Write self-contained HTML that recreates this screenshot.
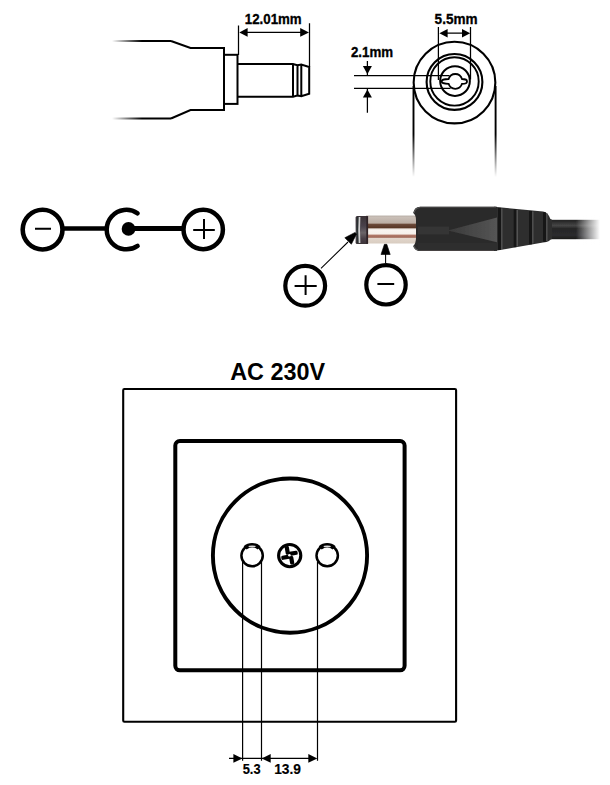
<!DOCTYPE html>
<html><head><meta charset="utf-8">
<style>
html,body{margin:0;padding:0;background:#fff;width:610px;height:785px;overflow:hidden}
svg{display:block}
text{font-family:"Liberation Sans",sans-serif;font-weight:bold;fill:#000}
</style></head><body>
<svg width="610" height="785" viewBox="0 0 610 785">
<defs>
<linearGradient id="fadeL" x1="112" y1="0" x2="142" y2="0" gradientUnits="userSpaceOnUse">
<stop offset="0" stop-color="#000" stop-opacity="0"/><stop offset="1" stop-color="#000" stop-opacity="1"/>
</linearGradient>
<linearGradient id="fadeV" x1="0" y1="82" x2="0" y2="177" gradientUnits="userSpaceOnUse">
<stop offset="0.55" stop-color="#000" stop-opacity="1"/><stop offset="1" stop-color="#000" stop-opacity="0"/>
</linearGradient>
<linearGradient id="barrel" x1="0" y1="215.5" x2="0" y2="243.5" gradientUnits="userSpaceOnUse">
<stop offset="0.000" stop-color="#aea49c"/>
<stop offset="0.054" stop-color="#cac0b8"/>
<stop offset="0.268" stop-color="#bcaea4"/>
<stop offset="0.321" stop-color="#6a4838"/>
<stop offset="0.429" stop-color="#5a3828"/>
<stop offset="0.482" stop-color="#e8e0da"/>
<stop offset="0.518" stop-color="#f8f4f0"/>
<stop offset="0.661" stop-color="#f6f0ea"/>
<stop offset="0.704" stop-color="#b07868"/>
<stop offset="0.779" stop-color="#a06858"/>
<stop offset="0.811" stop-color="#e2d6cc"/>
<stop offset="1.000" stop-color="#d8ccc0"/>
</linearGradient>
<linearGradient id="tipg" x1="0" y1="216" x2="0" y2="244" gradientUnits="userSpaceOnUse">
<stop offset="0" stop-color="#3a3236"/>
<stop offset="0.35" stop-color="#48404a"/>
<stop offset="0.6" stop-color="#6a6468"/>
<stop offset="0.8" stop-color="#4a4048"/>
<stop offset="1" stop-color="#3c3438"/>
</linearGradient>
<linearGradient id="bodyg" x1="0" y1="206.5" x2="0" y2="252" gradientUnits="userSpaceOnUse">
<stop offset="0" stop-color="#4a4a4a"/>
<stop offset="0.06" stop-color="#2c2c2c"/>
<stop offset="0.45" stop-color="#1e1e1e"/>
<stop offset="0.55" stop-color="#3a3a3a"/>
<stop offset="0.9" stop-color="#262626"/>
<stop offset="1" stop-color="#4a4a4a"/>
</linearGradient>
<linearGradient id="cableg" x1="0" y1="219.8" x2="0" y2="239.2" gradientUnits="userSpaceOnUse">
<stop offset="0" stop-color="#222"/>
<stop offset="0.3" stop-color="#454545"/>
<stop offset="0.45" stop-color="#262626"/>
<stop offset="0.8" stop-color="#2a2a2e"/>
<stop offset="1" stop-color="#1a1a1a"/>
</linearGradient>
<linearGradient id="cablefade" x1="576" y1="0" x2="600" y2="0" gradientUnits="userSpaceOnUse">
<stop offset="0" stop-color="#fff" stop-opacity="0"/><stop offset="1" stop-color="#fff" stop-opacity="1"/>
</linearGradient>
<filter id="soft" x="-5%" y="-20%" width="110%" height="140%"><feGaussianBlur stdDeviation="0.45"/></filter>
<linearGradient id="wedgeg" x1="448" y1="0" x2="497" y2="0" gradientUnits="userSpaceOnUse">
<stop offset="0" stop-color="#3a3a3a"/><stop offset="1" stop-color="#555"/>
</linearGradient>
</defs>

<g fill="none" stroke="#000" stroke-width="2">
<path d="M112,41 H171 M112,118.5 H171" stroke="url(#fadeL)"/>
<path d="M171,41 L190.5,48 H224 V110 H190.5 L171,118.5"/>
<rect x="224" y="54.8" width="13.5" height="49.1"/>
<path d="M237.5,64 H293 L297.5,65.3 V95.5 L293,96.7 H237.5 M293,64 V96.7"/>
<path d="M297.5,65.3 L301.3,64.6 L309.2,67 V93.7 L301.3,96.3 L297.5,95.5 M301.3,64.6 V96.3"/>
</g>
<g stroke="#000" stroke-width="1.25" fill="none"><path d="M238.5,25.5 V55 M309.5,23.3 V67 M246,32.4 H302"/></g>
<path d="M239.30,32.40 L247.60,28.00 L247.60,36.80 Z" fill="#000"/>
<path d="M309.00,32.40 L300.20,36.80 L300.20,28.00 Z" fill="#000"/>
<text transform="translate(244.8,23.8) scale(0.985,1.09)" font-size="13.5" stroke="#000" stroke-width="0.3">12.01mm</text>
<g fill="none" stroke="#000">
<path d="M413.5,86 V177 M495.6,86 V177" stroke="url(#fadeV)" stroke-width="1.9"/>
<circle cx="454.5" cy="82.55" r="40.85" stroke-width="2.1"/>
<circle cx="454.5" cy="81.95" r="27.9" stroke-width="2.1"/>
<circle cx="454.5" cy="81.4" r="24.2" stroke-width="1.9"/>
<circle cx="455" cy="81.05" r="14.85" stroke-width="2"/>
<path d="M448.58,79.0 A7.1,7.4 0 0 1 462.02,79.0 A5,2.4 0 0 1 462.02,83.8 A7.1,7.4 0 0 1 448.58,83.8 A6.9,2.4 0 0 1 448.58,79.0 Z" stroke-width="1.8"/>
</g>
<g stroke="#000" stroke-width="1.25" fill="none"><path d="M354,75.5 H449.5 M354,88.3 H450.5 M367.4,61 V75.5 M367.4,88.3 V112.7 M438.4,27 V80 M470.5,27 V79.5 M446,33.2 H463"/></g>
<path d="M367.40,74.20 L362.90,66.00 L371.90,66.00 Z" fill="#000"/>
<path d="M367.40,89.40 L371.90,97.60 L362.90,97.60 Z" fill="#000"/>
<path d="M439.40,33.20 L447.60,28.90 L447.60,37.50 Z" fill="#000"/>
<path d="M470.20,33.20 L462.00,37.50 L462.00,28.90 Z" fill="#000"/>
<text transform="translate(350.9,56.9) scale(1.04,1.09)" font-size="12.8" stroke="#000" stroke-width="0.3">2.1mm</text>
<text transform="translate(434.6,23.7) scale(1.06,1.1)" font-size="12.8" stroke="#000" stroke-width="0.3">5.5mm</text>
<g fill="none" stroke="#000" stroke-width="4.8">
<circle cx="42.6" cy="229.6" r="19.9" stroke-width="4.6"/>
<circle cx="203.2" cy="229.5" r="19.7" stroke-width="4.5"/>
<path d="M62,228.5 H106" stroke-width="4.5"/><path d="M128,228.5 H183" stroke-width="5.2"/>
<path d="M137.6,213.3 A19.75,19.75 0 1 0 137.6,245.9" stroke-width="4.5" stroke-linecap="round"/>
</g>
<circle cx="128.5" cy="228.9" r="6.8" fill="#000"/>
<g stroke="#000" stroke-width="2" fill="none">
<path d="M35,228.8 H51 M193.2,230 H214.8 M204,219 V239"/>
</g>
<g filter="url(#soft)">
<rect x="366" y="215.6" width="52" height="27.9" fill="url(#barrel)"/>
<rect x="355.6" y="216.1" width="12.4" height="27.8" rx="1.5" fill="url(#tipg)"/>
<path d="M357,217 Q355.6,230 357,243 H358.7 Q357.8,230 358.7,217 Z" fill="#2a3032"/>
<path d="M358.7,217 Q357.9,230 358.7,243 H360.4 Q359.6,230 360.4,217 Z" fill="#d0d0d0"/>
<rect x="366.3" y="216.1" width="1.8" height="27.8" fill="#2e2428"/>
<rect x="548" y="219.8" width="54" height="19.4" fill="url(#cableg)"/>
<rect x="560" y="215" width="50" height="30" fill="url(#cablefade)"/>
<path d="M494,206.8 L543,211.5 Q547,212.3 549,216 Q550,219.5 552,219.8 V239 Q550,239.3 549,241 Q547,242 543,242.5 L494,251 Z" fill="#2e2e2e"/>
<path d="M420,206.8 H497 V250.8 H420 Q414.5,250.8 413.2,246 Q416,243 416,238 V220 Q416,215 413.2,213 Q414.5,206.8 420,206.8 Z" fill="#2b2a2a"/>
<path d="M420,207.3 H496" stroke="#4a4848" stroke-width="1"/>
<path d="M414,213 Q415,208 420,207.5 M414,246 Q415,250.3 420,250.5" stroke="#555" stroke-width="1.2" fill="none"/>
<rect x="418" y="226.5" width="31" height="8" fill="#343434"/>
<path d="M448,230.5 L497,217.4 V242.3 Z" fill="url(#wedgeg)"/>
<path d="M418,243 H497 V250.5 H418 Z" fill="#2e2e2e"/>
<path d="M499.5,207.8 V250.0" stroke="#121212" stroke-width="2.6" opacity="0.9"/>
<path d="M501.8,208.4 V249.2" stroke="#5e5e5e" stroke-width="1.4" opacity="0.75"/>
<path d="M515,209.3 V247.2" stroke="#121212" stroke-width="2.6" opacity="0.9"/>
<path d="M517.3,210.0 V246.4" stroke="#5e5e5e" stroke-width="1.4" opacity="0.75"/>
<path d="M530.5,210.9 V244.4" stroke="#121212" stroke-width="2.6" opacity="0.9"/>
<path d="M532.8,211.6 V243.6" stroke="#5e5e5e" stroke-width="1.4" opacity="0.75"/>
<path d="M544.5,212.2 V241.9" stroke="#121212" stroke-width="2.6" opacity="0.9"/>
<path d="M546.8,212.9 V241.1" stroke="#5e5e5e" stroke-width="1.4" opacity="0.75"/>
</g>
<g fill="none" stroke="#000" stroke-width="4.2">
<circle cx="305.2" cy="285.8" r="19.9"/>
<circle cx="386" cy="284.8" r="19.7"/>
</g>
<g stroke="#000" stroke-width="2" fill="none">
<path d="M294.6,286 H316.7 M305.6,275.3 V295 M377.4,284 H394.2"/>
</g>
<g stroke="#000" stroke-width="1.05" fill="none"><path d="M321,268.4 L348,242 M385.6,263 V253"/></g>
<path d="M356.58,233.97 L351.34,244.26 L344.80,237.79 L355.02,232.43 Z" fill="#000" stroke="#000" stroke-width="0.6" stroke-linejoin="round"/>
<path d="M386.80,244.30 L390.20,254.50 L381.00,254.50 L384.40,244.30 Z" fill="#000" stroke="#000" stroke-width="0.6" stroke-linejoin="round"/>
<text transform="translate(230.2,379.6) scale(1.0,1.0)" font-size="23.4" >AC 230V</text>
<rect x="123.2" y="389" width="332.9" height="332.8" rx="1.2" fill="none" stroke="#000" stroke-width="2.1"/>
<rect x="175.3" y="441" width="229.3" height="229.3" rx="4.5" fill="none" stroke="#000" stroke-width="4"/>
<circle cx="290" cy="555.6" r="77.1" fill="none" stroke="#000" stroke-width="3.9"/>
<g fill="none" stroke="#000" stroke-width="2.5">
<circle cx="252.1" cy="555.6" r="10.7"/>
<circle cx="327.2" cy="555.6" r="10.7"/>
<path d="M245.1,547.9 A10.4,10.4 0 0 1 259.1,547.9" stroke-width="4.4"/>
<path d="M320.2,547.9 A10.4,10.4 0 0 1 334.2,547.9" stroke-width="4.4"/>
<circle cx="289.7" cy="555.6" r="11.1" stroke-width="3.1"/>
</g>
<ellipse cx="252.1" cy="546.4" rx="3.6" ry="0.9" fill="#fff" opacity="0.85"/>
<ellipse cx="327.2" cy="546.4" rx="3.6" ry="0.9" fill="#fff" opacity="0.85"/>
<g transform="translate(289.5,555.3) rotate(-10)" fill="#000">
<rect x="-3.4" y="-9.5" width="4.2" height="8.5" rx="1.5"/>
<rect x="-1" y="-3.4" width="9.5" height="4.2" rx="1.5"/>
<rect x="-0.8" y="1" width="4.2" height="8.5" rx="1.5"/>
<rect x="-8.5" y="-0.8" width="9.5" height="4.2" rx="1.5"/>
</g>
<circle cx="289.4" cy="555.3" r="1.3" fill="#fff"/>
<g stroke="#000" stroke-width="1.2" fill="none"><path d="M242.6,562 V760.8 M261.5,562 V760.8 M317.5,562 V760.8 M229,758.4 H312"/></g>
<path d="M242.40,758.40 L233.40,762.80 L233.40,754.00 Z" fill="#000"/>
<path d="M261.70,758.40 L270.70,754.00 L270.70,762.80 Z" fill="#000"/>
<path d="M317.30,758.40 L308.30,762.80 L308.30,754.00 Z" fill="#000"/>
<text transform="translate(242.7,773.6) scale(0.99,1.1)" font-size="13" stroke="#000" stroke-width="0.15">5.3</text>
<text transform="translate(274.2,773.6) scale(1.06,1.1)" font-size="13" stroke="#000" stroke-width="0.15">13.9</text>
</svg>
</body></html>
